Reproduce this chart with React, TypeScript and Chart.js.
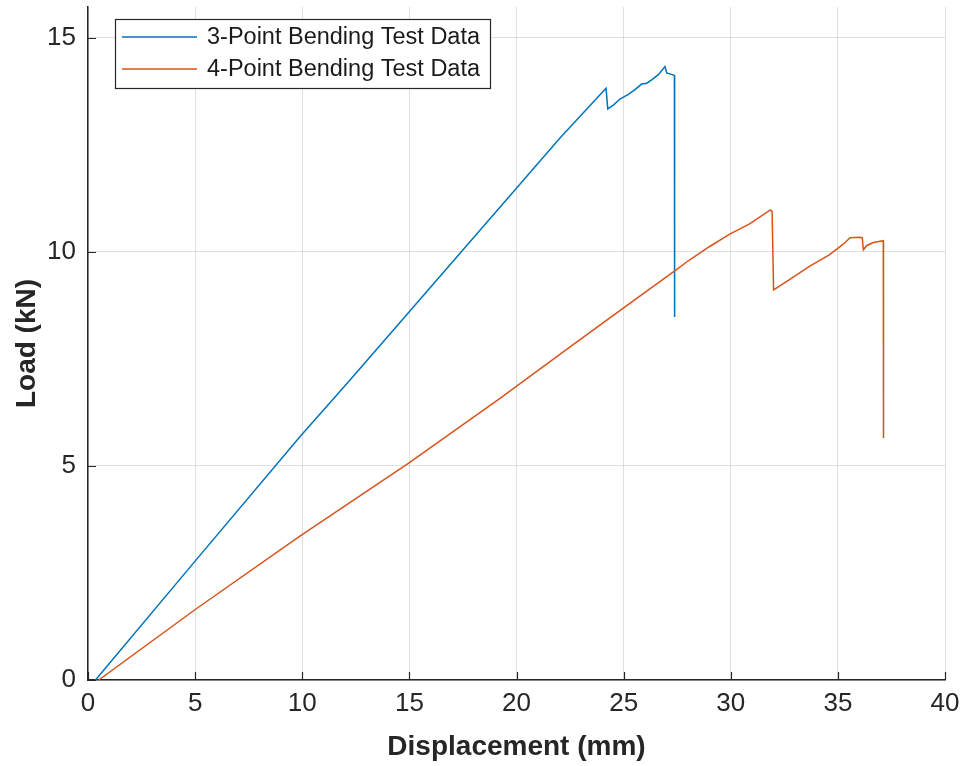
import React, { useEffect, useRef } from 'react';
import { Chart, registerables } from 'chart.js';

Chart.register(...registerables);

// ---- Data ----
const seriesNames = ['3-Point Bending Test Data', '4-Point Bending Test Data'];
const seriesColors = ['#0072BD', '#D95319'];

const blueX = [0.35, 4.92, 9.9, 12.23, 17.0, 22.03, 24.18, 24.26, 24.52, 24.83, 25.22, 25.53, 25.84, 26.08, 26.31, 26.62, 26.93, 27.01, 27.27, 27.37, 27.38];
const blueY = [0.0, 2.73, 5.69, 7.01, 9.76, 12.66, 13.82, 13.34, 13.43, 13.57, 13.68, 13.79, 13.92, 13.94, 14.02, 14.14, 14.33, 14.18, 14.14, 14.12, 8.48];

const orangeX = [0.5, 5.07, 9.89, 14.95, 19.23, 22.5, 25.0, 27.4, 28.07, 29.0, 29.93, 30.86, 31.85, 31.93, 32.0, 32.74, 33.67, 34.6, 35.25, 35.57, 36.04, 36.14, 36.19, 36.35, 36.66, 37.12, 37.13];
const orangeY = [0.0, 1.67, 3.36, 5.06, 6.58, 7.78, 8.69, 9.56, 9.81, 10.12, 10.41, 10.65, 10.98, 10.94, 9.11, 9.35, 9.66, 9.93, 10.18, 10.33, 10.34, 10.33, 10.05, 10.15, 10.22, 10.26, 5.65];

const xTicks = [0, 5, 10, 15, 20, 25, 30, 35, 40];
const yTicks = [0, 5, 10, 15];
const X_MIN = 0;
const X_MAX = 40;
const Y_MIN = 0;
const Y_MAX = 15.72;
const xTitle = 'Displacement (mm)';
const yTitle = 'Load (kN)';

const FONT = "'Liberation Sans', Arial, Helvetica, sans-serif";
const AXIS_COLOR = '#262626';
const GRID_COLOR = 'rgba(38,38,38,0.14)';

const toPoints = (xs: number[], ys: number[]) => xs.map((x, i) => ({ x, y: ys[i] }));

const matlabPlugin = {
  id: 'matlabDecor',
  afterDraw(chart: any) {
    const { ctx, chartArea, scales } = chart;
    const xs = scales.x;
    const ys = scales.y;
    ctx.save();
    // inside tick marks
    ctx.strokeStyle = AXIS_COLOR;
    ctx.lineWidth = 1.2;
    ctx.beginPath();
    yTicks.forEach((v) => {
      const py = Math.round(ys.getPixelForValue(v)) + 0.5;
      ctx.moveTo(chartArea.left, py);
      ctx.lineTo(chartArea.left + 8, py);
    });
    xTicks.forEach((v) => {
      const px = Math.round(xs.getPixelForValue(v)) + 0.5;
      ctx.moveTo(px, chartArea.bottom);
      ctx.lineTo(px, chartArea.bottom - 8);
    });
    ctx.stroke();

    // legend
    const bx = chartArea.left + 27;
    const by = chartArea.top + 12;
    const bw = 375;
    const bh = 69;
    ctx.fillStyle = '#ffffff';
    ctx.fillRect(bx, by, bw, bh);
    ctx.strokeStyle = AXIS_COLOR;
    ctx.lineWidth = 1.2;
    ctx.strokeRect(bx + 0.5, by + 0.5, bw, bh);
    ctx.font = `23.5px ${FONT}`;
    ctx.textBaseline = 'middle';
    ctx.textAlign = 'left';
    seriesNames.forEach((name, i) => {
      const ly = by + 18 + i * 32;
      ctx.strokeStyle = seriesColors[i];
      ctx.lineWidth = 1.5;
      ctx.beginPath();
      ctx.moveTo(bx + 7, ly);
      ctx.lineTo(bx + 82, ly);
      ctx.stroke();
      ctx.fillStyle = '#1a1a1a';
      ctx.fillText(name, bx + 92, ly + 1);
    });
    ctx.restore();
  },
};

export default function App() {
  const canvasRef = useRef<HTMLCanvasElement | null>(null);

  useEffect(() => {
    if (!canvasRef.current) return;
    const chart = new Chart(canvasRef.current, {
      type: 'scatter',
      data: {
        datasets: [
          {
            label: seriesNames[0],
            data: toPoints(blueX, blueY),
            borderColor: seriesColors[0],
            backgroundColor: seriesColors[0],
            showLine: true,
            pointRadius: 0,
            borderWidth: 1.5,
            tension: 0,
            order: 1,
          },
          {
            label: seriesNames[1],
            data: toPoints(orangeX, orangeY),
            borderColor: seriesColors[1],
            backgroundColor: seriesColors[1],
            showLine: true,
            pointRadius: 0,
            borderWidth: 1.5,
            tension: 0,
            order: 0,
          },
        ],
      },
      options: {
        responsive: false,
        animation: false,
        devicePixelRatio: 1,
        layout: { padding: { top: 7, right: 21, left: 0, bottom: 0 } },
        plugins: {
          legend: { display: false },
          tooltip: { enabled: false },
        },
        scales: {
          x: {
            type: 'linear',
            position: 'bottom',
            min: X_MIN,
            max: X_MAX,
            ticks: {
              stepSize: 5,
              includeBounds: false,
              maxRotation: 0,
              autoSkip: false,
              padding: 8,
              color: AXIS_COLOR,
              font: { family: FONT, size: 26 },
            },
            grid: { color: GRID_COLOR, drawTicks: false, lineWidth: 1 },
            border: { display: true, color: AXIS_COLOR, width: 1.5 },
            title: {
              display: true,
              text: xTitle,
              color: AXIS_COLOR,
              font: { family: FONT, size: 28, weight: 'bold' },
              padding: { top: 0, bottom: 2 },
            },
            afterFit: (s: any) => {
              s.height = 86;
              s.paddingLeft = 0;
              s.paddingRight = 0;
              s.paddingTop = 0;
              s.paddingBottom = 0;
            },
          },
          y: {
            type: 'linear',
            min: Y_MIN,
            max: Y_MAX,
            ticks: {
              stepSize: 5,
              includeBounds: false,
              padding: 12,
              color: AXIS_COLOR,
              font: { family: FONT, size: 26 },
            },
            grid: { color: GRID_COLOR, drawTicks: false, lineWidth: 1 },
            border: { display: true, color: AXIS_COLOR, width: 1.5 },
            title: {
              display: true,
              text: yTitle,
              color: AXIS_COLOR,
              font: { family: FONT, size: 28, weight: 'bold' },
              padding: { top: 10, bottom: 0 },
            },
            afterFit: (s: any) => {
              s.width = 88;
              s.paddingLeft = 0;
              s.paddingRight = 0;
              s.paddingTop = 0;
              s.paddingBottom = 0;
            },
          },
        },
      },
      plugins: [matlabPlugin],
    } as any);
    return () => chart.destroy();
  }, []);

  return (
    <div style={{ position: 'fixed', left: 0, top: 0, width: 966, height: 766, background: '#ffffff' }}>
      <canvas ref={canvasRef} width={966} height={766} style={{ width: 966, height: 766, display: 'block' }} />
    </div>
  );
}
